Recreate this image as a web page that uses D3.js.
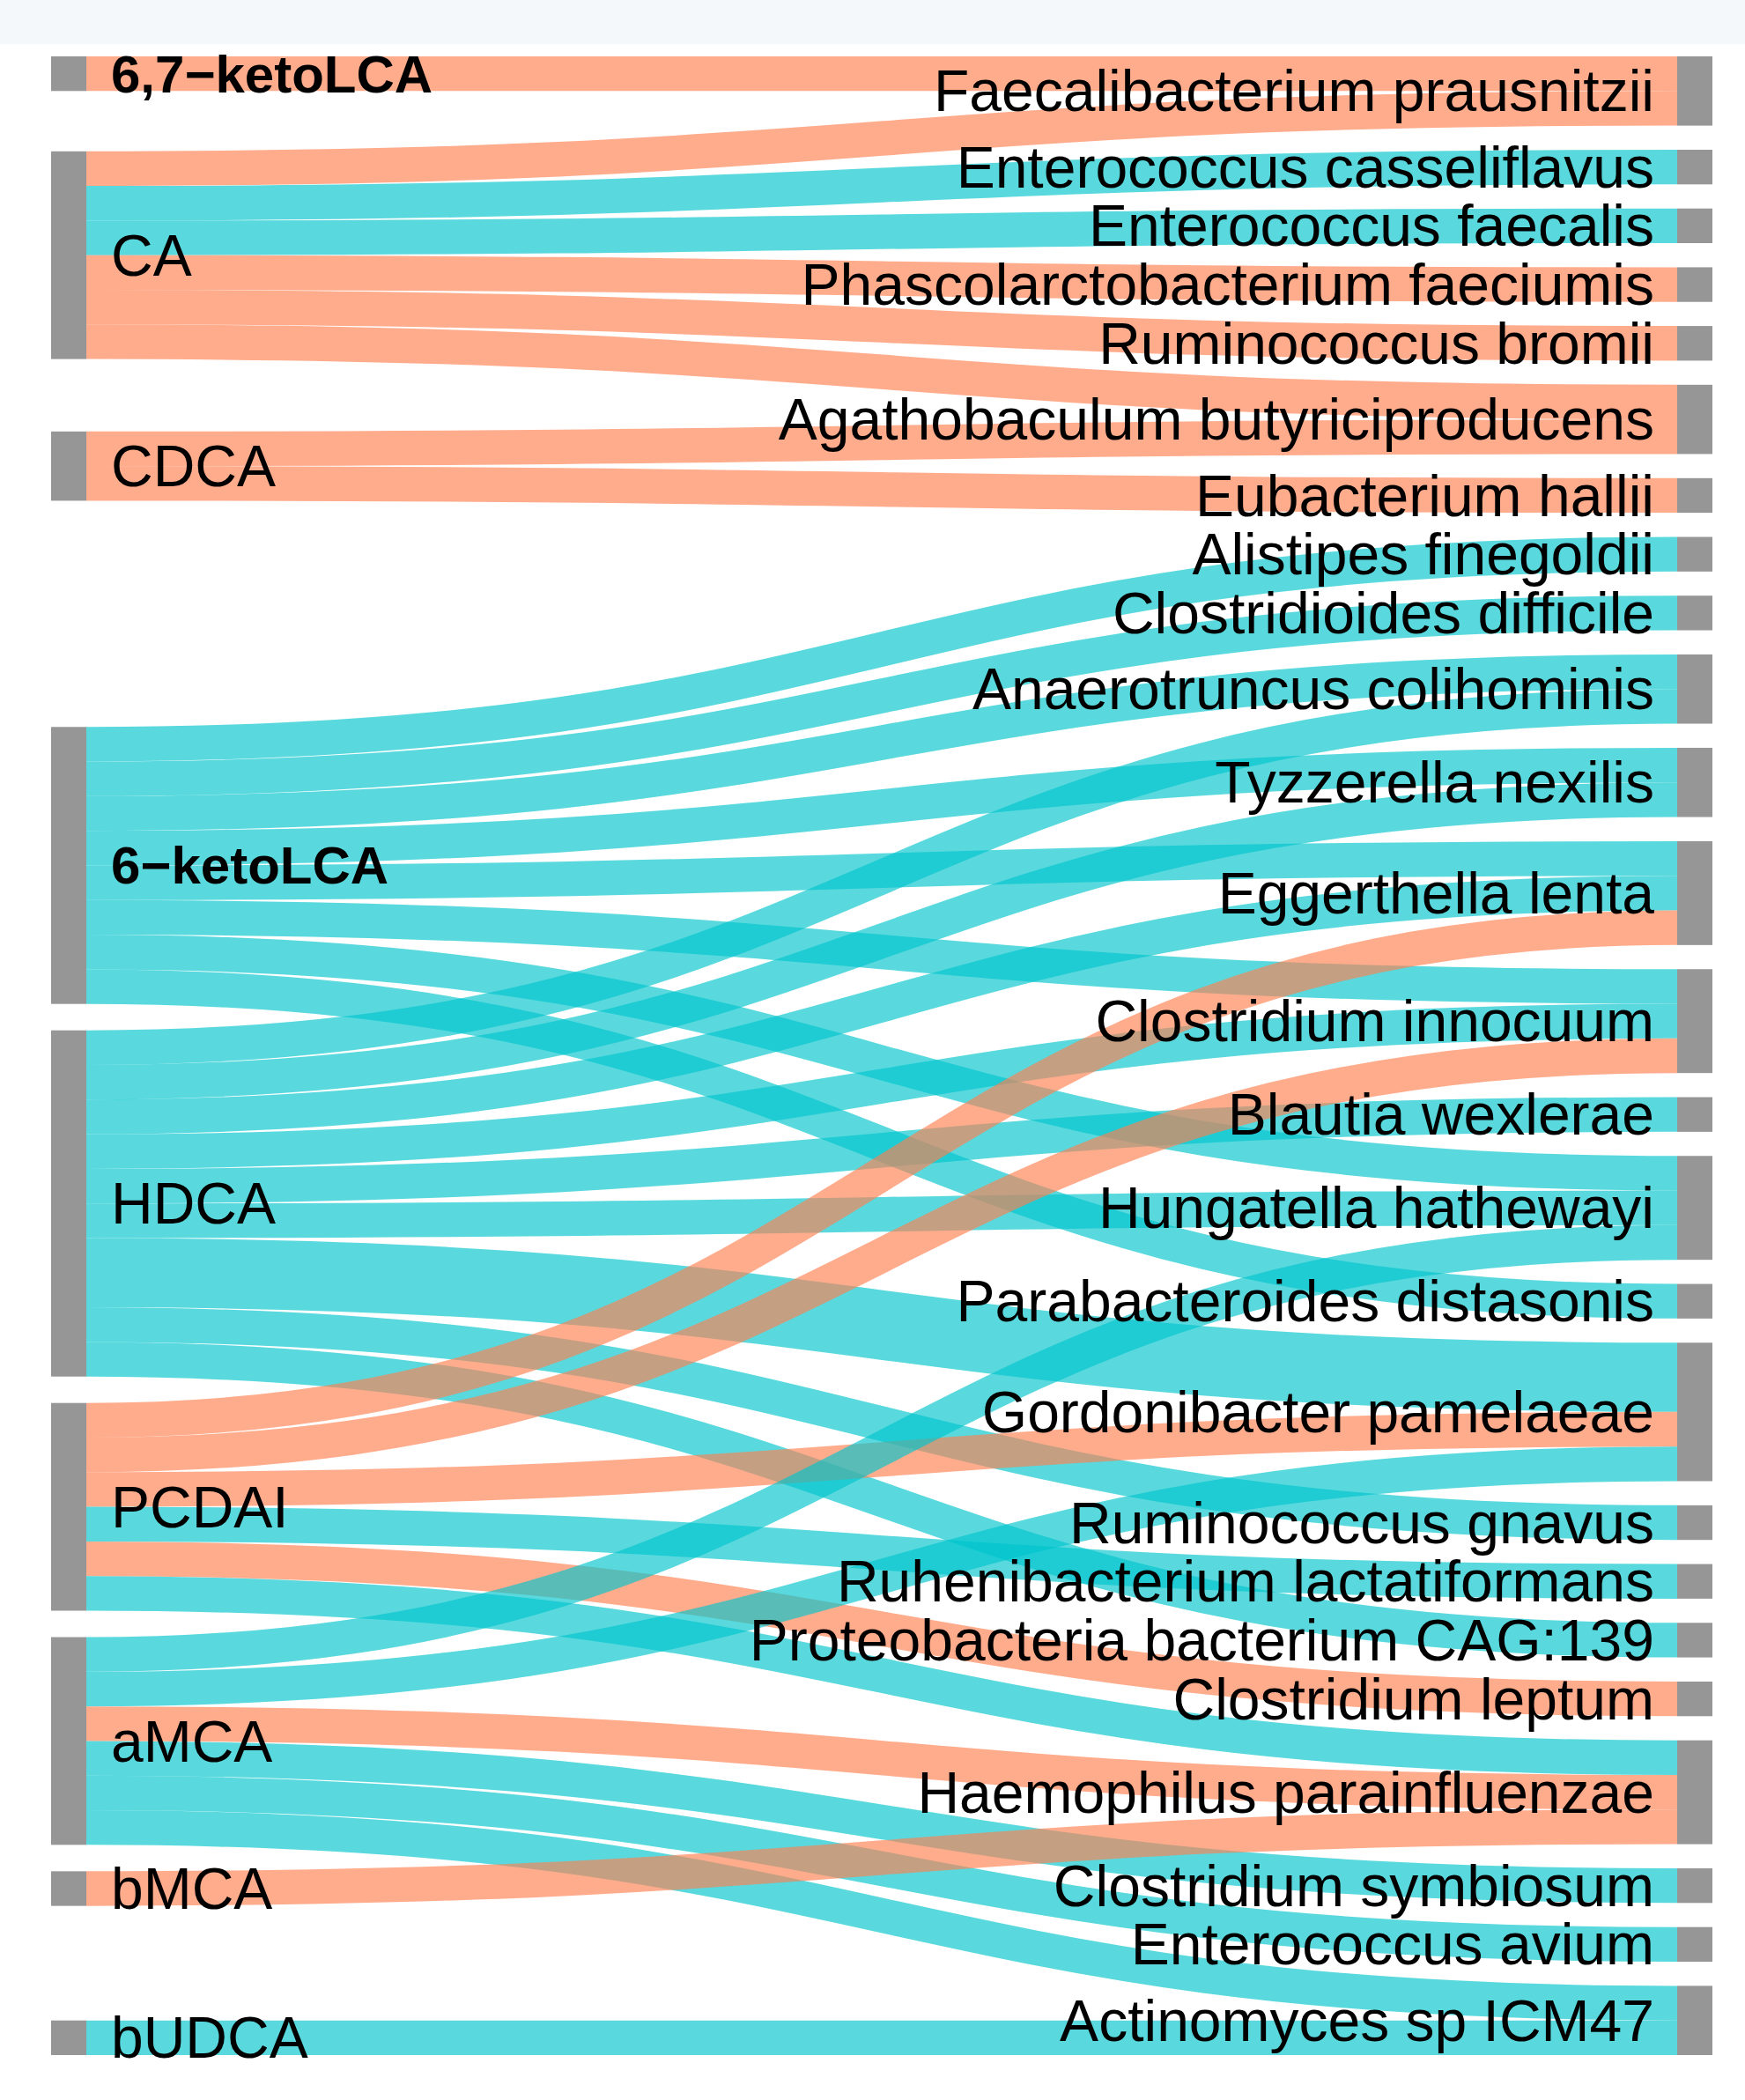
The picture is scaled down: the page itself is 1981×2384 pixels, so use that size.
<!DOCTYPE html>
<html>
<head>
<meta charset="utf-8">
<script src="https://cdn.jsdelivr.net/npm/d3@7"></script>
<style>
  body { margin: 0; background: #fff; }
  text { font-family: "Liberation Sans", Arial, Helvetica, sans-serif; }
</style>
</head>
<body>
<script>
var svgWidth = 1981;
var svgHeight = 2384;

var nodeWidth = 40;
var nodePadding = 27.4;
var leftGap = 30;
var extent = { left: 58, right: 1944, top: 64, bottom: 2333 };

// bile acids (left column), top to bottom
var bileAcids = ["6,7−ketoLCA", "CA", "CDCA", "6−ketoLCA", "HDCA", "PCDAI", "aMCA", "bMCA", "bUDCA"];
var boldLabels = ["6,7−ketoLCA", "6−ketoLCA"];

// species (right column), top to bottom
var bacteria = [
  "Faecalibacterium prausnitzii",
  "Enterococcus casseliflavus",
  "Enterococcus faecalis",
  "Phascolarctobacterium faeciumis",
  "Ruminococcus bromii",
  "Agathobaculum butyriciproducens",
  "Eubacterium hallii",
  "Alistipes finegoldii",
  "Clostridioides difficile",
  "Anaerotruncus colihominis",
  "Tyzzerella nexilis",
  "Eggerthella lenta",
  "Clostridium innocuum",
  "Blautia wexlerae",
  "Hungatella hathewayi",
  "Parabacteroides distasonis",
  "Gordonibacter pamelaeae",
  "Ruminococcus gnavus",
  "Ruhenibacterium lactatiformans",
  "Proteobacteria bacterium CAG:139",
  "Clostridium leptum",
  "Haemophilus parainfluenzae",
  "Clostridium symbiosum",
  "Enterococcus avium",
  "Actinomyces sp ICM47"
];

// links: source, target, value, sign ("pos" salmon / "neg" cyan)
var linkFrom = [
  "6,7−ketoLCA",
  "CA", "CA", "CA", "CA", "CA", "CA",
  "CDCA", "CDCA",
  "6−ketoLCA", "6−ketoLCA", "6−ketoLCA", "6−ketoLCA", "6−ketoLCA", "6−ketoLCA", "6−ketoLCA", "6−ketoLCA",
  "HDCA", "HDCA", "HDCA", "HDCA", "HDCA", "HDCA", "HDCA", "HDCA", "HDCA",
  "PCDAI", "PCDAI", "PCDAI", "PCDAI", "PCDAI", "PCDAI",
  "aMCA", "aMCA", "aMCA", "aMCA", "aMCA", "aMCA",
  "bMCA",
  "bUDCA"
];
var linkTo = [
  "Faecalibacterium prausnitzii",
  "Faecalibacterium prausnitzii", "Enterococcus casseliflavus", "Enterococcus faecalis",
  "Phascolarctobacterium faeciumis", "Ruminococcus bromii", "Agathobaculum butyriciproducens",
  "Agathobaculum butyriciproducens", "Eubacterium hallii",
  "Alistipes finegoldii", "Clostridioides difficile", "Anaerotruncus colihominis", "Tyzzerella nexilis",
  "Eggerthella lenta", "Clostridium innocuum", "Hungatella hathewayi", "Parabacteroides distasonis",
  "Anaerotruncus colihominis", "Tyzzerella nexilis", "Eggerthella lenta", "Clostridium innocuum",
  "Blautia wexlerae", "Hungatella hathewayi", "Gordonibacter pamelaeae", "Ruminococcus gnavus",
  "Proteobacteria bacterium CAG:139",
  "Eggerthella lenta", "Clostridium innocuum", "Gordonibacter pamelaeae",
  "Ruhenibacterium lactatiformans", "Clostridium leptum", "Haemophilus parainfluenzae",
  "Hungatella hathewayi", "Gordonibacter pamelaeae", "Haemophilus parainfluenzae",
  "Clostridium symbiosum", "Enterococcus avium", "Actinomyces sp ICM47",
  "Haemophilus parainfluenzae",
  "Actinomyces sp ICM47"
];
var linkValue = [
  1,
  1, 1, 1, 1, 1, 1,
  1, 1,
  1, 1, 1, 1, 1, 1, 1, 1,
  1, 1, 1, 1, 1, 1, 2, 1, 1,
  1, 1, 1, 1, 1, 1,
  1, 1, 1, 1, 1, 1,
  1,
  1
];
var linkSign = [
  "pos",
  "pos", "neg", "neg", "pos", "pos", "pos",
  "pos", "pos",
  "neg", "neg", "neg", "neg", "neg", "neg", "neg", "neg",
  "neg", "neg", "neg", "neg", "neg", "neg", "neg", "neg", "neg",
  "pos", "pos", "pos", "neg", "pos", "neg",
  "neg", "neg", "pos", "neg", "neg", "neg",
  "pos",
  "neg"
];

var color = d3.scaleOrdinal()
  .domain(["pos", "neg"])
  .range(["#ff7f50", "#00c5cd"]);

// ---- build graph ----
var nodes = bileAcids.map(function(name) { return { name: name, col: 0 }; })
  .concat(bacteria.map(function(name) { return { name: name, col: 1 }; }));
var byName = new Map(nodes.map(function(n) { return [n.name, n]; }));
nodes.forEach(function(n) { n.sourceLinks = []; n.targetLinks = []; });

var links = linkFrom.map(function(s, i) {
  var l = { source: byName.get(s), target: byName.get(linkTo[i]), value: linkValue[i], sign: linkSign[i] };
  l.source.sourceLinks.push(l);
  l.target.targetLinks.push(l);
  return l;
});

nodes.forEach(function(n) {
  n.value = Math.max(d3.sum(n.sourceLinks, function(l) { return l.value; }),
                     d3.sum(n.targetLinks, function(l) { return l.value; }));
});

var columns = [nodes.filter(function(n) { return n.col === 0; }),
               nodes.filter(function(n) { return n.col === 1; })];

var ky = d3.min(columns, function(c) {
  return (extent.bottom - extent.top - (c.length - 1) * nodePadding) / d3.sum(c, function(n) { return n.value; });
});
var yUnit = d3.scaleLinear().domain([0, 1]).range([0, ky]);
var xCol = d3.scalePoint().domain([0, 1]).range([extent.left, extent.right - nodeWidth]);

nodes.forEach(function(n) { n.x0 = xCol(n.col); n.x1 = n.x0 + nodeWidth; });
links.forEach(function(l) { l.width = yUnit(l.value); });

function stack(col, gap) {
  var y = extent.top;
  col.forEach(function(n) {
    n.y0 = y; n.y1 = y + yUnit(n.value);
    y = n.y1 + gap;
  });
}
stack(columns[1], nodePadding);
stack(columns[0], leftGap);

function orderLinks() {
  nodes.forEach(function(n) {
    n.sourceLinks.sort(function(a, b) { return a.target.y0 - b.target.y0; });
    n.targetLinks.sort(function(a, b) { return a.source.y0 - b.source.y0; });
  });
  nodes.forEach(function(n) {
    var y = n.y0;
    n.sourceLinks.forEach(function(l) { l.y0 = y + l.width / 2; y += l.width; });
    y = n.y0;
    n.targetLinks.forEach(function(l) { l.y1 = y + l.width / 2; y += l.width; });
  });
}

function resolveCollisions(col, gap) {
  var list = col.slice().sort(function(a, b) { return a.y0 - b.y0; });
  var y = extent.top;
  list.forEach(function(n) {
    var d = y - n.y0;
    if (d > 0) { n.y0 += d; n.y1 += d; }
    y = n.y1 + gap;
  });
  var yb = extent.bottom;
  for (var i = list.length - 1; i >= 0; i--) {
    var n = list[i];
    var d = n.y1 - yb;
    if (d > 0) { n.y0 -= d; n.y1 -= d; }
    yb = n.y0 - gap;
  }
}

// relax left column so links run as straight as possible
for (var it = 0; it < 10; it++) {
  orderLinks();
  columns[0].forEach(function(n) {
    var w = d3.sum(n.sourceLinks, function(l) { return l.value; });
    var ideal = d3.sum(n.sourceLinks, function(l) { return (l.y1 - (l.y0 - n.y0)) * l.value; }) / w;
    var h = n.y1 - n.y0;
    n.y0 = ideal; n.y1 = ideal + h;
  });
  resolveCollisions(columns[0], leftGap);
}
orderLinks();

// ---- draw ----
var svg = d3.select("body")
  .append("svg")
  .attr("width", svgWidth)
  .attr("height", svgHeight);

svg.append("rect")
  .attr("width", svgWidth)
  .attr("height", svgHeight)
  .attr("fill", "#ffffff");

svg.append("rect")
  .attr("width", svgWidth)
  .attr("height", 50)
  .attr("fill", "#f4f8fb");

var linkPath = d3.linkHorizontal()
  .source(function(d) { return [d.source.x1, d.y0]; })
  .target(function(d) { return [d.target.x0, d.y1]; });

svg.append("g")
  .attr("fill", "none")
  .selectAll("path")
  .data(links)
  .enter()
  .append("path")
  .attr("d", linkPath)
  .attr("stroke", function(d) { return color(d.sign); })
  .attr("stroke-opacity", 0.65)
  .attr("stroke-width", function(d) { return d.width; });

svg.append("g")
  .selectAll("rect")
  .data(nodes)
  .enter()
  .append("rect")
  .attr("x", function(d) { return d.x0; })
  .attr("y", function(d) { return d.y0; })
  .attr("width", function(d) { return d.x1 - d.x0; })
  .attr("height", function(d) { return d.y1 - d.y0; })
  .attr("fill", "#969696");

svg.append("g")
  .selectAll("text")
  .data(nodes)
  .enter()
  .append("text")
  .attr("x", function(d) { return d.col === 0 ? d.x1 + 28 : d.x0 - 26; })
  .attr("y", function(d) { return (d.y0 + d.y1) / 2; })
  .attr("dy", "0.35em")
  .style("text-anchor", function(d) { return d.col === 0 ? "start" : "end"; })
  .style("font-size", function(d) { return boldLabels.indexOf(d.name) >= 0 ? "60px" : "66px"; })
  .style("font-weight", function(d) { return boldLabels.indexOf(d.name) >= 0 ? "bold" : "normal"; })
  .attr("fill", "#000")
  .text(function(d) { return d.name; });
</script>
</body>
</html>
